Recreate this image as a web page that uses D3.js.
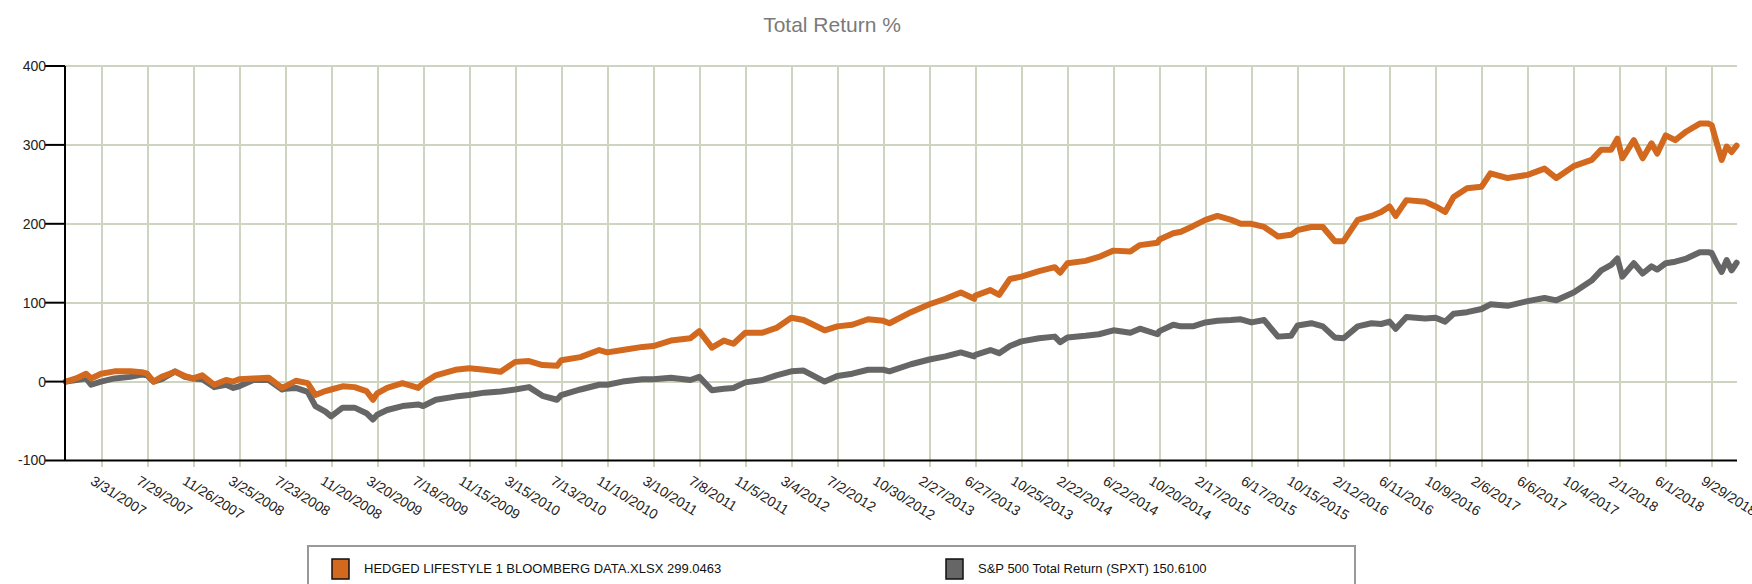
<!DOCTYPE html>
<html lang="en">
<head>
<meta charset="utf-8">
<title>Total Return %</title>
<script src="https://d3js.org/d3.v7.min.js"></script>
<style>
  body { margin: 0; background: #fff; font-family: "Liberation Sans", Arial, sans-serif; }
  .grid line { stroke: #cdd5c1; stroke-width: 2; shape-rendering: crispEdges; }
  .grid path { display: none; }
  .tick-label { font-size: 14px; fill: #222; }
</style>
</head>
<body>
<div id="chart"></div>
<script>
// tick labels on the date axis (every 120 days)
var tickLabels = ["3/31/2007","7/29/2007","11/26/2007","3/25/2008","7/23/2008","11/20/2008",
  "3/20/2009","7/18/2009","11/15/2009","3/15/2010","7/13/2010","11/10/2010","3/10/2011",
  "7/8/2011","11/5/2011","3/4/2012","7/2/2012","10/30/2012","2/27/2013","6/27/2013",
  "10/25/2013","2/22/2014","6/22/2014","10/20/2014","2/17/2015","6/17/2015","10/15/2015",
  "2/12/2016","6/11/2016","10/9/2016","2/6/2017","6/6/2017","10/4/2017","2/1/2018",
  "6/1/2018","9/29/2018"];
var yTicks = [-100, 0, 100, 200, 300, 400];

var dates = ["2006-12-29","2007-01-25","2007-02-20","2007-03-05","2007-03-31","2007-05-05",
  "2007-06-15","2007-07-15","2007-07-29","2007-08-15","2007-09-05","2007-10-10","2007-11-05",
  "2007-11-26","2007-12-20","2008-01-20","2008-02-20","2008-03-10","2008-03-25","2008-05-01",
  "2008-06-10","2008-07-15","2008-07-23","2008-08-20","2008-09-20","2008-10-10","2008-11-05",
  "2008-11-20","2008-12-20","2009-01-20","2009-02-20","2009-03-09","2009-03-20","2009-04-15",
  "2009-05-25","2009-07-05","2009-07-18","2009-08-20","2009-10-10","2009-11-15","2009-12-25",
  "2010-02-05","2010-03-15","2010-04-20","2010-05-25","2010-07-02","2010-07-13","2010-09-01",
  "2010-10-20","2010-11-10","2010-12-20","2011-02-10","2011-03-10","2011-04-25","2011-06-15",
  "2011-07-08","2011-08-10","2011-09-10","2011-10-05","2011-11-05","2011-12-20","2012-01-25",
  "2012-03-04","2012-04-05","2012-05-30","2012-07-02","2012-08-10","2012-09-20","2012-10-30",
  "2012-11-15","2013-01-10","2013-02-27","2013-04-10","2013-05-20","2013-06-24","2013-06-27",
  "2013-08-05","2013-08-28","2013-09-25","2013-10-25","2013-12-10","2014-01-20","2014-02-03",
  "2014-02-22","2014-04-10","2014-05-15","2014-06-22","2014-08-05","2014-08-30","2014-10-15",
  "2014-10-20","2014-11-25","2014-12-15","2015-01-15","2015-02-17","2015-03-20","2015-04-25",
  "2015-05-20","2015-06-17","2015-07-20","2015-08-25","2015-09-28","2015-10-15","2015-11-20",
  "2015-12-20","2016-01-20","2016-02-12","2016-03-20","2016-04-25","2016-05-20","2016-06-11",
  "2016-06-27","2016-07-25","2016-09-12","2016-10-09","2016-11-03","2016-11-25","2016-12-30",
  "2017-02-06","2017-03-01","2017-04-15","2017-06-06","2017-07-20","2017-08-20","2017-10-04",
  "2017-11-20","2017-12-15","2018-01-10","2018-01-26","2018-02-08","2018-03-10","2018-04-02",
  "2018-04-25","2018-05-10","2018-06-01","2018-06-26","2018-07-25","2018-08-29","2018-09-20",
  "2018-09-29","2018-10-10","2018-10-25","2018-11-07","2018-11-20","2018-12-03"];

var hedged = [0,4,10,4,10,13,13,12,10,0,6,12.5,7,4,8,-4,2,0,3,4,5,-8,-6,1,-2,-17,-12,-10,-6,-7,
  -12,-23,-15,-8,-2,-8,-2,8,15,17,15,12.5,25,26,21,20,27,31,40,37,40,44,45,52,55,64,43,52,48,
  62,62,68,81,78,65,70,72,79,77,74,88,98,105,113,105,109,116,110,130,133,140,145,138,150,153,
  158,166,165,173,176,180,188,190,197,205,210,205,200,200,196,184,186,192,196,196,178,178,205,
  210,215,222,210,230,228,222,215,234,245,247,264,258,262,270,258,273,281,294,294,308,283,306,
  283,302,289,312,306,317,327,327,325,306,281,298,291,299.0463];

var spxt = [0,2,4,-4,0,4,6,9,8,0,3,13,6,4,3,-7,-4,-8,-6,2,2,-10,-9,-8,-13,-31,-38,-44,-33,-33,
  -40,-48,-42,-36,-31,-29,-31,-23,-19,-17,-14,-12.5,-10,-7,-18,-23,-17,-10,-4,-4,0,3,3,5,2,6,
  -11,-9,-8,-1,2,8,13,14,0,7,10,15,15,13,22,28,32,37,32,34,40,36,45,51,55,57,50,56,58,60,65,62,
  67,60,64,72,70,70,75,77,78,79,75,78,57,58,71,74,70,56,55,70,74,73,76,67,82,80,81,76,86,88,92,
  98,96,102,106,103,113,128,141,148,156,133,150,137,146,142,150,152,156,164,164,163,152,139,154,
  141,150.61];

var seriesNames = ["HEDGED LIFESTYLE 1 BLOOMBERG DATA.XLSX 299.0463", "S&P 500 Total Return (SPXT) 150.6100"];
var seriesColors = ["#d2691e", "#666666"];

var W = 1752, H = 584;
var margin = {left: 65, right: 1737, top: 66, bottom: 460.5};

var parse = d3.timeParse("%Y-%m-%d");
var parseTick = d3.timeParse("%m/%d/%Y");

var svg = d3.select("#chart").append("svg")
  .attr("width", W).attr("height", H);

var x = d3.scaleTime()
  .domain([parse("2006-12-27"), parse("2018-12-04")])
  .range([margin.left, margin.right]);
var y = d3.scaleLinear().domain([-100, 400]).range([margin.bottom, margin.top]);

// title
svg.append("text")
  .attr("x", 832).attr("y", 32)
  .attr("text-anchor", "middle")
  .style("font-size", "21px")
  .style("fill", "#7a7a7a")
  .text("Total Return %");

// horizontal grid
svg.append("g").attr("class", "grid")
  .selectAll("line").data(yTicks.filter(function(d){ return d > -100; }))
  .enter().append("line")
  .attr("x1", margin.left).attr("x2", margin.right)
  .attr("y1", function(d){ return y(d); }).attr("y2", function(d){ return y(d); });

// vertical grid + tick marks
var tickDates = tickLabels.map(function(s){ return parseTick(s); });
svg.append("g").attr("class", "grid")
  .attr("transform", "translate(0," + (margin.bottom + 6) + ")")
  .call(d3.axisBottom(x).tickValues(tickDates).tickSize(-(margin.bottom + 6 - margin.top)).tickFormat(""));

// lines, gray first so the orange one sits on top
var lineGen = d3.line()
  .x(function(d){ return x(d[0]); })
  .y(function(d){ return y(d[1]); });

[[spxt, seriesColors[1]], [hedged, seriesColors[0]]].forEach(function(s) {
  var pts = dates.map(function(d, j){ return [parse(d), s[0][j]]; });
  svg.append("path")
    .attr("d", lineGen(pts))
    .attr("fill", "none")
    .attr("stroke", s[1])
    .attr("stroke-width", 6)
    .attr("stroke-linejoin", "round")
    .attr("stroke-linecap", "round");
});

// axes
svg.append("line").attr("x1", margin.left).attr("x2", margin.left)
  .attr("y1", margin.top).attr("y2", margin.bottom)
  .attr("stroke", "#000").attr("stroke-width", 2);
svg.append("line").attr("x1", margin.left).attr("x2", margin.right)
  .attr("y1", margin.bottom).attr("y2", margin.bottom)
  .attr("stroke", "#000").attr("stroke-width", 2);

var yt = svg.append("g");
yt.selectAll("line").data(yTicks).enter().append("line")
  .attr("x1", margin.left - 20).attr("x2", margin.left)
  .attr("y1", function(d){ return y(d); }).attr("y2", function(d){ return y(d); })
  .attr("stroke", "#000").attr("stroke-width", 2);
yt.selectAll("text").data(yTicks).enter().append("text")
  .attr("class", "tick-label")
  .attr("x", margin.left - 19).attr("y", function(d){ return y(d); })
  .attr("dy", "0.35em")
  .attr("text-anchor", "end")
  .text(function(d){ return d; });

// date labels
svg.append("g").selectAll("text").data(tickLabels).enter().append("text")
  .attr("class", "tick-label")
  .attr("transform", function(d){ return "translate(" + (x(parseTick(d)) - 6) + "," + (margin.bottom + 14) + ") rotate(32)"; })
  .attr("dy", "0.75em")
  .text(function(d){ return d; });

// legend
svg.append("rect")
  .attr("x", 308).attr("y", 546).attr("width", 1047).attr("height", 60)
  .attr("fill", "#fff").attr("stroke", "#999").attr("stroke-width", 2);
var legX = [332, 946];
seriesNames.forEach(function(name, i) {
  svg.append("rect")
    .attr("x", legX[i]).attr("y", 559).attr("width", 17).attr("height", 20)
    .attr("fill", seriesColors[i]).attr("stroke", "#111").attr("stroke-width", 1.5);
  svg.append("text")
    .attr("x", legX[i] + 32).attr("y", 573)
    .style("font-size", "13px").style("fill", "#111")
    .text(name);
});
</script>
</body>
</html>
